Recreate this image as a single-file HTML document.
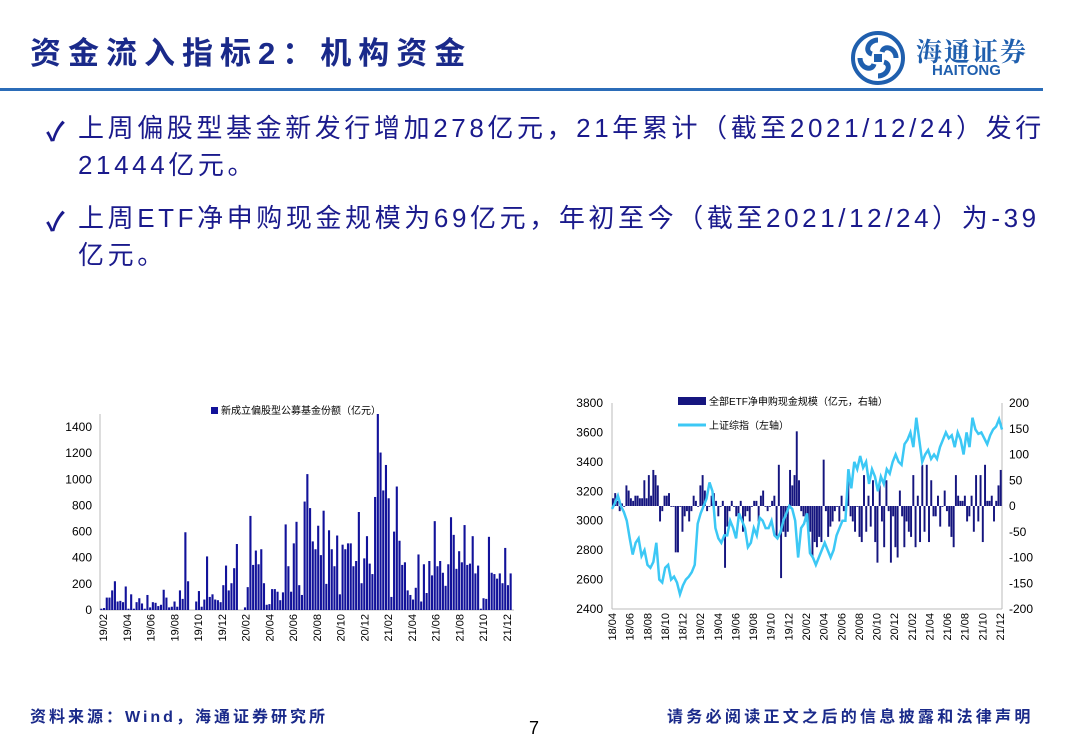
<!DOCTYPE html>
<html><head><meta charset="utf-8">
<style>
body{margin:0;width:1080px;height:746px;background:#fff;position:relative;overflow:hidden;font-family:"Liberation Sans","Noto Sans CJK SC",sans-serif;}
.abs{position:absolute;}
.title{left:30px;top:28px;font-size:31px;font-weight:bold;color:#1a2a8a;letter-spacing:7px;}
.rule{left:0;top:88px;width:1043px;height:3px;background:#2b6cb8;}
.bl{font-size:26px;color:#1a1a8c;line-height:37px;letter-spacing:3.6px;white-space:nowrap;}
.chk{font-size:26px;color:#1a1a8c;font-weight:bold;}
.foot{font-size:16px;color:#1a2a8a;font-weight:bold;}
</style></head><body>
<div class="abs title">资金流入指标2：机构资金</div>
<div class="abs rule"></div>
<svg class="abs" style="left:850px;top:30px" width="56" height="56" viewBox="0 0 56 56">
<circle cx="28" cy="28" r="25" fill="none" stroke="#1f5fae" stroke-width="4"/>
<path d="M28 10 C18 10 14 22 22 24 M46 28 C46 18 34 14 32 22 M28 46 C38 46 42 34 34 32 M10 28 C10 38 22 42 24 34" fill="none" stroke="#1f5fae" stroke-width="5"/>
<rect x="24" y="24" width="8" height="8" fill="#1f5fae"/>
</svg>
<div class="abs" style="left:916px;top:32px;font-size:26px;color:#1f5fae;font-family:'Noto Serif CJK SC',serif;font-weight:bold;letter-spacing:2px">海通证券</div>
<div class="abs" style="left:932px;top:62px;font-size:15px;color:#1f5fae;font-weight:bold">HAITONG</div>

<div class="abs chk" style="left:46px;top:112px">✓</div>
<div class="abs bl" style="left:78px;top:110px">上周偏股型基金新发行增加278亿元，21年累计（截至2021/12/24）发行<br>21444亿元。</div>
<div class="abs chk" style="left:46px;top:202px">✓</div>
<div class="abs bl" style="left:78px;top:200px">上周ETF净申购现金规模为69亿元，年初至今（截至2021/12/24）为-39<br>亿元。</div>

<svg class="abs" style="left:0;top:380px" width="540" height="290" id="c1"></svg>
<svg class="abs" style="left:560px;top:385px" width="500" height="285" id="c2"></svg>

<div class="abs foot" style="left:30px;top:703px;letter-spacing:3px">资料来源：Wind，海通证券研究所</div>
<div class="abs" style="left:529px;top:718px;font-size:18px;color:#000">7</div>
<div class="abs foot" style="left:667px;top:703px;letter-spacing:3.3px">请务必阅读正文之后的信息披露和法律声明</div>

<script>
const c1Values=[10,15,95,95,150,220,65,70,60,180,10,120,10,60,90,50,10,115,20,60,55,30,40,155,95,20,25,65,25,150,85,595,220,0,0,65,145,25,80,410,100,120,80,75,60,190,340,150,205,320,505,0,0,20,175,720,345,455,350,465,205,40,45,160,160,140,75,135,655,335,140,510,675,190,115,830,1040,780,525,465,645,420,760,200,610,465,335,570,120,500,465,510,510,335,375,750,205,395,565,355,275,865,1500,1205,915,1110,855,100,600,945,530,345,365,150,115,80,170,425,65,350,130,375,265,680,335,375,285,185,350,710,575,315,450,365,650,345,355,565,280,340,10,90,85,560,285,275,240,280,205,475,190,280];
const c1Ticks=[0,200,400,600,800,1000,1200,1400];
const c1XLabels=["19/02","19/04","19/06","19/08","19/10","19/12","20/02","20/04","20/06","20/08","20/10","20/12","21/02","21/04","21/06","21/08","21/10","21/12"];
const c2Index=[3080,3120,3170,3100,3060,3000,2880,2770,2850,2880,2760,2800,2700,2680,2720,2850,2600,2580,2680,2700,2600,2620,2580,2500,2560,2600,2620,2650,2700,2980,3050,3100,3150,3260,3200,2950,2880,2850,2900,2900,3000,2950,2880,3050,3000,2950,2820,2850,2950,2900,3020,3000,2950,2950,3000,2900,2880,2920,3000,3050,3100,3080,3000,2750,2950,2980,3050,2780,2750,2700,2750,2800,2850,2800,2750,2800,2900,2950,3000,3000,3350,3220,3400,3350,3440,3360,3400,3250,3350,3300,3200,3300,3250,3350,3320,3400,3450,3400,3380,3520,3550,3600,3500,3700,3550,3400,3450,3480,3420,3450,3420,3500,3550,3600,3560,3580,3500,3600,3550,3450,3600,3500,3700,3620,3590,3600,3560,3520,3580,3620,3640,3690,3620];
const c2Flows=[15,25,10,-10,5,0,40,30,15,10,20,20,15,15,50,15,60,20,70,60,40,-30,-10,20,20,25,0,0,-90,-90,0,-50,-20,-10,-30,-10,20,10,0,40,60,30,-10,0,20,25,10,-20,0,10,-120,-40,-10,10,0,-20,-30,10,-50,-20,-10,-30,0,10,10,-30,20,30,0,-10,0,10,20,-60,80,-140,-50,-60,-50,70,40,60,145,50,-10,-20,-30,-40,-50,-100,-70,-80,-60,-70,90,-10,-60,-40,-30,-10,0,-30,20,-10,-10,60,-20,-30,-50,0,-60,-70,60,-50,20,-40,50,-70,-110,40,-30,-80,50,-10,-110,-20,-80,-100,30,-20,-80,-30,-50,-60,60,-80,20,-70,80,-50,80,-70,50,-20,-20,20,-40,0,30,-10,-40,-60,-80,60,20,10,10,20,-30,-20,20,-50,60,-30,60,-70,80,10,10,20,-30,10,40,70];
const c2LeftTicks=[2400,2600,2800,3000,3200,3400,3600,3800];
const c2RightTicks=[-200,-150,-100,-50,0,50,100,150,200];
const c2XLabels=["18/04","18/06","18/08","18/10","18/12","19/02","19/04","19/06","19/08","19/10","19/12","20/02","20/04","20/06","20/08","20/10","20/12","21/02","21/04","21/06","21/08","21/10","21/12"];
const NS="http://www.w3.org/2000/svg";
function mk(svg,tag,attrs,text){const e=document.createElementNS(NS,tag);for(const k in attrs)e.setAttribute(k,attrs[k]);if(text!==undefined)e.textContent=text;svg.appendChild(e);return e;}
const F='font-family:"Liberation Sans","Noto Sans CJK SC",sans-serif';
(function(){
const s=document.getElementById('c1');
const x0=100,x1=512,yb=230,yt=34,vmax=1500;
const y=v=>yb-(v/vmax)*(yb-yt);
const bw=(x1-x0)/c1Values.length;
mk(s,'line',{x1:x0,y1:yt,x2:x0,y2:yb,stroke:'#bbb'});
mk(s,'line',{x1:x0,y1:yb,x2:x1+2,y2:yb,stroke:'#bbb'});
c1Ticks.forEach(t=>{const e=mk(s,'text',{x:x0-8,y:y(t)+4,'text-anchor':'end','font-size':12,style:F},t);

});
c1Values.forEach((v,i)=>{const r=mk(s,'rect',{x:x0+i*bw+0.3,y:y(v),width:Math.max(bw-0.6,1),height:yb-y(v),fill:'#12129a'});

});
c1XLabels.forEach((l,i)=>{const xx=x0+3+i*(x1-x0-8)/(c1XLabels.length-1);const e=mk(s,'text',{x:0,y:0,transform:`translate(${xx+4},${yb+4}) rotate(-90)`,'text-anchor':'end','font-size':11,style:F},l);

});
mk(s,'rect',{x:211,y:27,width:7,height:7,fill:'#12129a'});
const lg=mk(s,'text',{x:221,y:34,'font-size':10,style:F},'新成立偏股型公募基金份额（亿元）');


})();
(function(){
const s=document.getElementById('c2');
const x0=52,x1=442,yt=18,yb=224;
const yl=v=>yb-(v-2400)/1400*(yb-yt);
const yr=v=>yb-(v+200)/400*(yb-yt);
mk(s,'line',{x1:x0,y1:yt,x2:x0,y2:yb,stroke:'#bbb'});
mk(s,'line',{x1:x1,y1:yt,x2:x1,y2:yb,stroke:'#bbb'});
mk(s,'line',{x1:x0,y1:yb,x2:x1,y2:yb,stroke:'#bbb'});
c2LeftTicks.forEach(t=>{const e=mk(s,'text',{x:x0-9,y:yl(t)+4,'text-anchor':'end','font-size':12,style:F},t);

});
c2RightTicks.forEach(t=>{const e=mk(s,'text',{x:x1+7,y:yr(t)+4,'font-size':12,style:F},t);

});
const bw=(x1-x0)/c2Flows.length;
c2Flows.forEach((v,i)=>{const a=yr(Math.max(v,0)),b=yr(Math.min(v,0));const r=mk(s,'rect',{x:x0+i*bw,y:a,width:Math.max(bw-0.3,1),height:Math.max(b-a,0.8),fill:'#15157f'});

});
const n=c2Index.length;
const pts=c2Index.map((v,i)=>`${x0+i*(x1-x0)/(n-1)},${yl(v)}`).join(' ');
const p=mk(s,'polyline',{points:pts,fill:'none',stroke:'#3cc8f5','stroke-width':2.5});


c2XLabels.forEach((l,i)=>{const xx=x0+i*(x1-x0-2)/(c2XLabels.length-1);const e=mk(s,'text',{x:0,y:0,transform:`translate(${xx+4},${yb+4}) rotate(-90)`,'text-anchor':'end','font-size':11,style:F},l);

});
mk(s,'rect',{x:118,y:12,width:28,height:8,fill:'#15157f'});
const l1=mk(s,'text',{x:149,y:20,'font-size':10,style:F},'全部ETF净申购现金规模（亿元，右轴）');


mk(s,'line',{x1:118,y1:40,x2:146,y2:40,stroke:'#3cc8f5','stroke-width':3});
const l2=mk(s,'text',{x:149,y:44,'font-size':10,style:F},'上证综指（左轴）');


})();
</script>
</body></html>
